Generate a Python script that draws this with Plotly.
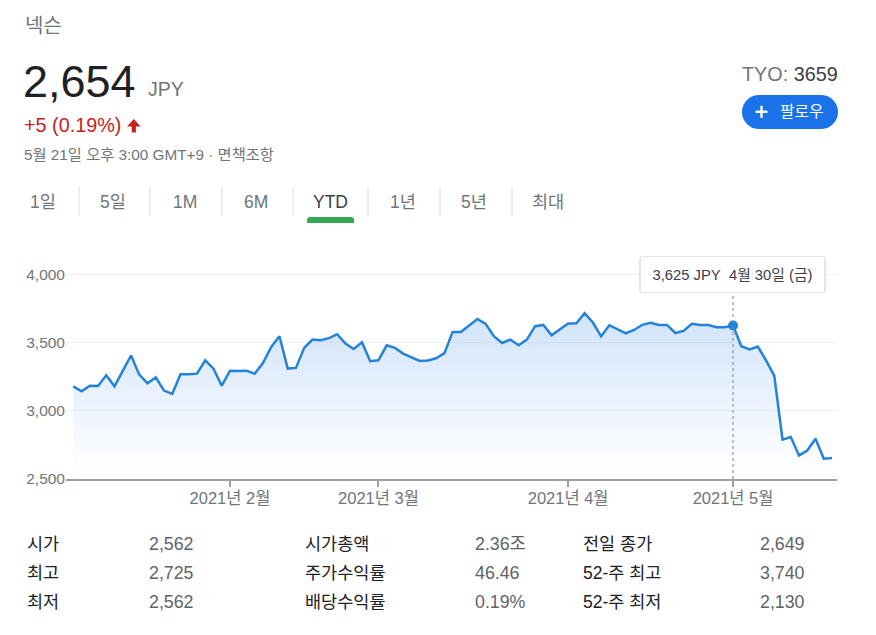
import plotly.graph_objects as go
import math

# ---------------- data ----------------
stock_name = "넥슨"
price_text = "2,654"
currency = "JPY"
change_text = "+5 (0.19%)"
timestamp_text = "5월 21일 오후 3:00 GMT+9 · 면책조항"
ticker_prefix = "TYO: "
ticker_code = "3659"
follow_text = "팔로우"

tab_labels = ["1일", "5일", "1M", "6M", "YTD", "1년", "5년", "최대"]
active_tab = "YTD"

# trading days (Tokyo, 2021 YTD)
jan_days = [4, 5, 6, 7, 8, 12, 13, 14, 15, 18, 19, 20, 21, 22, 25, 26, 27, 28, 29]
feb_days = [1, 2, 3, 4, 5, 8, 9, 10, 12, 15, 16, 17, 18, 19, 22, 24, 25, 26]
mar_days = [1, 2, 3, 4, 5, 8, 9, 10, 11, 12, 15, 16, 17, 18, 19, 22, 23, 24, 25, 26, 29, 30, 31]
apr_days = [1, 2, 5, 6, 7, 8, 9, 12, 13, 14, 15, 16, 19, 20, 21, 22, 23, 26, 27, 28, 30]
may_days = [6, 7, 10, 11, 12, 13, 14, 17, 18, 19, 20, 21]
dates = ([f"2021-01-{d:02d}" for d in jan_days] + [f"2021-02-{d:02d}" for d in feb_days]
         + [f"2021-03-{d:02d}" for d in mar_days] + [f"2021-04-{d:02d}" for d in apr_days]
         + [f"2021-05-{d:02d}" for d in may_days])

prices = [3179, 3143, 3184, 3181, 3260, 3179, 3292, 3405, 3265, 3201,
          3245, 3148, 3123, 3267, 3267, 3272, 3370, 3309, 3184, 3294,
          3292, 3294, 3272, 3350, 3468, 3546, 3309, 3314, 3461, 3522,
          3517, 3532, 3561, 3493, 3453, 3502, 3363, 3370, 3480, 3461,
          3419, 3394, 3365, 3368, 3385, 3422, 3578, 3578, 3627, 3673,
          3637, 3546, 3497, 3522, 3480, 3522, 3620, 3629, 3554, 3598,
          3639, 3642, 3715, 3647, 3546, 3627, 3598, 3568, 3592, 3630,
          3644, 3629, 3629, 3570, 3585, 3637, 3629, 3629, 3612, 3612,
          3625, 3473, 3449, 3471, 3370, 3258, 2788, 2807, 2673, 2709,
          2795, 2649, 2654]

x_tick_dates = ["2021-02-01", "2021-03-01", "2021-04-01", "2021-04-30"]
x_tick_labels = ["2021년 2월", "2021년 3월", "2021년 4월", "2021년 5월"]
y_ticks = [2500, 3000, 3500, 4000]

hover_date = "2021-04-30"
hover_text = "3,625 JPY\u00a0\u00a04월 30일 (금)"

stat_labels = [["시가", "최고", "최저"],
               ["시가총액", "주가수익률", "배당수익률"],
               ["전일 종가", "52-주 최고", "52-주 최저"]]
stat_values = [["2,562", "2,725", "2,562"],
               ["2.36조", "46.46", "0.19%"],
               ["2,649", "3,740", "2,130"]]

# ---------------- layout helpers ----------------
W, H = 876, 635
PL, PR, PT, PB = 66, 837, 260, 479
FONT = "Liberation Sans, Arial, Noto Sans CJK KR, sans-serif"
LINE = "#2383d9"
GRAY = "#70757a"
DARK = "#202124"


def px(x):
    return (x - PL) / (PR - PL)


def py(y):
    return (PB - y) / (PB - PT)


annotations = []
shapes = []


def text(x, y, s, size, color, xanchor="left", yanchor="middle", **kw):
    annotations.append(dict(x=px(x), y=py(y), xref="paper", yref="paper", text=s,
                            showarrow=False, xanchor=xanchor, yanchor=yanchor,
                            font=dict(family=FONT, size=size, color=color), **kw))


def poly(points, fill):
    path = "M " + " L ".join(f"{px(a):.5f},{py(b):.5f}" for a, b in points) + " Z"
    shapes.append(dict(type="path", xref="paper", yref="paper", path=path,
                       fillcolor=fill, line=dict(width=0, color=fill), layer="above"))


def pline(x0, y0, x1, y1, color, width, dash="solid"):
    shapes.append(dict(type="line", xref="paper", yref="paper", x0=px(x0), y0=py(y0),
                       x1=px(x1), y1=py(y1), line=dict(color=color, width=width, dash=dash),
                       layer="above"))


def round_rect(x0, y0, x1, y1, r, top_only=False):
    pts = []
    n = 10
    for i in range(n + 1):
        a = math.pi + (math.pi / 2) * i / n
        pts.append((x0 + r + r * math.cos(a), y0 + r + r * math.sin(a)))
    for i in range(n + 1):
        a = 1.5 * math.pi + (math.pi / 2) * i / n
        pts.append((x1 - r + r * math.cos(a), y0 + r + r * math.sin(a)))
    if top_only:
        pts.append((x1, y1))
        pts.append((x0, y1))
    else:
        for i in range(n + 1):
            a = (math.pi / 2) * i / n
            pts.append((x1 - r + r * math.cos(a), y1 - r + r * math.sin(a)))
        for i in range(n + 1):
            a = math.pi / 2 + (math.pi / 2) * i / n
            pts.append((x0 + r + r * math.cos(a), y1 - r + r * math.sin(a)))
    return pts


# ---------------- header ----------------
text(23, 26, stock_name, 20, GRAY)
text(21, 81, price_text, 45, DARK)
text(146, 89, currency, 19.5, GRAY)
text(22, 125, change_text, 19.8, "#c5221f")
poly([(133.8, 119.0), (140.6, 126.4), (135.9, 126.4), (135.9, 132.5),
      (131.7, 132.5), (131.7, 126.4), (127.0, 126.4)], "#c5221f")
text(22, 154, timestamp_text, 15.3, GRAY)

text(840, 73.5, f"<span style='color:{GRAY}'>{ticker_prefix}</span>"
     f"<span style='color:#3c4043'>{ticker_code}</span>", 19.8, GRAY, xanchor="right")
poly(round_rect(742, 95, 838, 129, 17), "#1a73e8")
pline(755.5, 111.8, 767.5, 111.8, "white", 2.4)
pline(761.5, 105.8, 761.5, 117.8, "white", 2.4)
text(778, 111, follow_text, 15.8, "white")

# tabs
tab_centers = [43, 113, 185, 256, 330, 403, 474, 548]
for lab, cx in zip(tab_labels, tab_centers):
    text(cx, 202, lab, 17.5, "#3c4043" if lab == active_tab else GRAY, xanchor="center")
for sx in [79, 150, 222, 293, 368, 440, 512]:
    pline(sx, 187, sx, 216, "#dadce0", 1)
poly(round_rect(307, 217, 354, 223, 3, top_only=True), "#34a853")

# tooltip
shapes.append(dict(type="line", xref="x", yref="paper", x0=hover_date, x1=hover_date,
                   y0=0, y1=py(292), line=dict(color="#80868b", width=1, dash="dot"),
                   layer="above"))
poly(round_rect(639, 257, 826, 293, 3), "rgba(0,0,0,0.10)")
annotations.append(dict(x=px(732.5), y=py(274.5), xref="paper", yref="paper",
                        text=hover_text, showarrow=False, xanchor="center", yanchor="middle",
                        width=175, height=27, borderpad=4, bgcolor="white",
                        bordercolor="#e6e6e6", borderwidth=1,
                        font=dict(family=FONT, size=14.8, color="#3c4043")))

# stats table
col_label_x = [27, 305, 583]
col_value_x = [149, 475, 760]
row_y = [544, 573, 602]
for c in range(3):
    for r in range(3):
        text(col_label_x[c] - 2, row_y[r], stat_labels[c][r], 17.5, DARK)
        text(col_value_x[c] - 2, row_y[r], stat_values[c][r], 17.8, "#5f6368")

# ---------------- chart ----------------
fig = go.Figure()
fig.add_trace(go.Scatter(
    x=dates, y=prices, mode="lines",
    line=dict(color=LINE, width=2.5),
    fill="tozeroy",
    fillgradient=dict(type="vertical", start=2550, stop=3720,
                      colorscale=[[0, "rgba(26,115,232,0.0)"], [1, "rgba(26,115,232,0.20)"]]),
    hoverinfo="skip", showlegend=False))
fig.add_trace(go.Scatter(
    x=[hover_date], y=[prices[dates.index(hover_date)]], mode="markers",
    marker=dict(color=LINE, size=10), hoverinfo="skip", showlegend=False))

fig.update_layout(
    width=W, height=H,
    margin=dict(l=PL, r=W - PR, t=PT, b=H - PB, pad=0),
    paper_bgcolor="white", plot_bgcolor="white",
    font=dict(family=FONT, color=GRAY),
    xaxis=dict(type="category", range=[-0.885, 92.606], showgrid=False, zeroline=False,
               showline=True, linecolor="#9e9e9e", linewidth=1.5,
               ticks="outside", ticklen=6, tickwidth=1.5, tickcolor="#9e9e9e",
               tickmode="array", tickvals=x_tick_dates, ticktext=x_tick_labels,
               ticklabelstandoff=-3,
               tickfont=dict(size=16.5, color=GRAY, family=FONT)),
    yaxis=dict(range=[2500, 4105], tickvals=y_ticks, tickformat=",",
               showgrid=True, gridcolor="#f0f0f0", gridwidth=1, zeroline=False,
               showline=False, ticks="", tickfont=dict(size=15.5, color=GRAY, family=FONT)),
    annotations=annotations, shapes=shapes,
    hovermode=False,
)

fig.write_html("out.html", config={"displayModeBar": False})
